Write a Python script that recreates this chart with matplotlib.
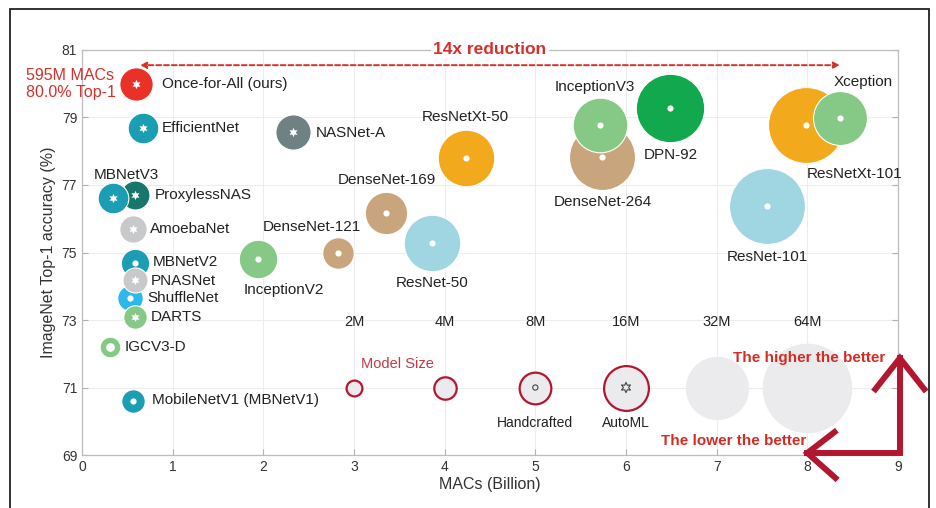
import numpy as np
import matplotlib.pyplot as plt
from matplotlib.patches import Rectangle

plt.rcParams['font.family'] = ['Liberation Sans', 'DejaVu Sans']

# --- data (drawing order = stacking order) ---
models = ["DenseNet-264", "InceptionV3", "ResNetXt-101", "Xception", "ResNet-101",
          "DPN-92", "ResNet-50", "ResNetXt-50", "DenseNet-169", "DenseNet-121",
          "InceptionV2", "NASNet-A", "ProxylessNAS", "MBNetV3", "AmoebaNet",
          "MBNetV2", "ShuffleNet", "PNASNet", "DARTS", "IGCV3-D",
          "MobileNetV1 (MBNetV1)", "EfficientNet", "Once-for-All (ours)"]
macs = [5.74, 5.71, 7.98, 8.36, 7.56,
        6.49, 3.86, 4.23, 3.35, 2.82,
        1.94, 2.33, 0.58, 0.34, 0.56,
        0.58, 0.53, 0.58, 0.58, 0.31,
        0.56, 0.67, 0.595]
top1 = [77.83, 78.78, 78.78, 78.99, 76.38,
        79.28, 75.28, 77.8, 76.17, 74.99,
        74.8, 78.57, 76.7, 76.6, 75.7,
        74.7, 73.65, 74.2, 73.1, 72.2,
        70.6, 78.7, 80.0]
params = [34.7, 23.8, 46.0, 23.2, 46.0,
          37.3, 25.5, 25.5, 14.3, 7.9,
          11.8, 9.9, 6.7, 7.5, 6.0,
          6.4, 5.2, 5.0, 4.4, 3.4,
          4.4, 7.5, 8.9]
automl = [False, False, False, False, False,
          False, False, False, False, False,
          False, True, True, True, True,
          False, False, True, True, False,
          False, True, True]

legend_sizes = [2, 4, 8, 16, 32, 64]
legend_labels = ["2M", "4M", "8M", "16M", "32M", "64M"]
legend_macs = [3, 4, 5, 6, 7, 8]

# --- styles ---
colors = {
    "DenseNet-264": "#c9a57e", "DenseNet-169": "#c9a57e", "DenseNet-121": "#c9a57e",
    "InceptionV3": "#86c886", "InceptionV2": "#86c886", "Xception": "#86c886",
    "DARTS": "#86c886", "IGCV3-D": "#86c886",
    "ResNetXt-101": "#f2aa1c", "ResNetXt-50": "#f2aa1c",
    "ResNet-101": "#9fd6e2", "ResNet-50": "#9fd6e2",
    "DPN-92": "#12a84e", "NASNet-A": "#6f8182",
    "ProxylessNAS": "#17776c", "AmoebaNet": "#c8c9cb", "PNASNet": "#c8c9cb",
    "MBNetV3": "#1b9db4", "MBNetV2": "#1b9db4", "MobileNetV1 (MBNetV1)": "#1b9db4",
    "EfficientNet": "#1b9db4", "ShuffleNet": "#2db8ea",
    "Once-for-All (ours)": "#ea3127",
}
# label placement: (x, y, ha)
label_pos = {
    "DenseNet-264": (5.74, 76.5, "center"), "InceptionV3": (5.66, 79.9, "center"),
    "ResNetXt-101": (8.52, 77.33, "center"), "Xception": (8.62, 80.05, "center"),
    "ResNet-101": (7.56, 74.87, "center"), "DPN-92": (6.49, 77.9, "center"),
    "ResNet-50": (3.86, 74.1, "center"), "ResNetXt-50": (4.23, 79.0, "center"),
    "DenseNet-169": (3.36, 77.15, "center"), "DenseNet-121": (2.54, 75.76, "center"),
    "InceptionV2": (2.23, 73.9, "center"), "NASNet-A": (2.58, 78.54, "left"),
    "ProxylessNAS": (0.80, 76.7, "left"), "MBNetV3": (0.49, 77.3, "center"),
    "AmoebaNet": (0.75, 75.7, "left"), "MBNetV2": (0.78, 74.72, "left"),
    "ShuffleNet": (0.72, 73.65, "left"), "PNASNet": (0.76, 74.16, "left"),
    "DARTS": (0.76, 73.09, "left"), "IGCV3-D": (0.47, 72.2, "left"),
    "MobileNetV1 (MBNetV1)": (0.77, 70.63, "left"), "EfficientNet": (0.88, 78.7, "left"),
    "Once-for-All (ours)": (0.88, 80.0, "left"),
}
SCALE = 65.0  # points^2 per million params
red = "#d7302a"
crimson = "#b3172f"

fig = plt.figure(figsize=(9.36, 5.08), dpi=100)
ax = fig.add_axes([0.0876, 0.1043, 0.8718, 0.7973])

for m, x, y, p, star in zip(models, macs, top1, params, automl):
    ax.scatter(x, y, s=SCALE * p, color=colors[m], edgecolors="white", linewidths=0.8, zorder=3)
    if star:
        ax.scatter(x, y, s=45, marker=(6, 1, 0), color="white", linewidths=0, zorder=3)
    else:
        ax.scatter(x, y, s=40 if m == "IGCV3-D" else 20, marker="o", color="white",
                   linewidths=0, zorder=3)
    lx, ly, ha = label_pos[m]
    ax.text(lx, ly, m, ha=ha, va="center", fontsize=11, color="#222222", zorder=4)

# model-size legend inside the axes
for i, (sz, lab, x) in enumerate(zip(legend_sizes, legend_labels, legend_macs)):
    if i < 4:
        ax.scatter(x, 71, s=SCALE * sz, color="#ebebee", edgecolors=crimson, linewidths=1.6, zorder=3)
    else:
        ax.scatter(x, 71, s=SCALE * sz, color="#ebebee", linewidths=0, zorder=2)
    ax.text(x, 72.95, lab, ha="center", va="center", fontsize=10.5, color="#222222")
ax.scatter(5, 71, s=14, marker="o", facecolors="none", edgecolors="#444444", linewidths=0.8, zorder=4)
ax.scatter(6, 71, s=55, marker=(6, 1, 0), facecolors="none", edgecolors="#444444", linewidths=0.8, zorder=4)
ax.text(5.0, 69.95, "Handcrafted", ha="center", va="center", fontsize=10, color="#222222")
ax.text(6.0, 69.95, "AutoML", ha="center", va="center", fontsize=10, color="#222222")
ax.text(3.48, 71.7, "Model Size", ha="center", va="center", fontsize=10.5, color="#c23a45")

# OFA callout and reduction arrow
ax.text(-0.62, 80.0, "595M MACs\n80.0% Top-1", ha="left", va="center", fontsize=11.5,
        color=red, linespacing=1.15, clip_on=False)
ax.annotate("", xy=(0.64, 80.55), xytext=(8.36, 80.55),
            arrowprops=dict(arrowstyle="<|-|>", color=red, lw=1.4, ls=(0, (2.5, 1.5)),
                            mutation_scale=9, shrinkA=0, shrinkB=0))
ax.text(4.5, 81.0, "14x reduction", ha="center", va="center", fontsize=12.5,
        fontweight="bold", color=red, zorder=5,
        bbox=dict(boxstyle="square,pad=0.15", fc="white", ec="none"))

# "better" arrows
ax.plot([8.0, 9.02, 9.02], [69.06, 69.06, 71.87], color=crimson, lw=4.3,
        solid_joinstyle="miter", clip_on=False, zorder=5)
ax.plot([8.3, 8.0, 8.31], [69.68, 69.06, 68.32], color=crimson, lw=4.3,
        solid_joinstyle="miter", clip_on=False, zorder=5)
ax.plot([8.75, 9.02, 9.29], [70.95, 71.87, 70.95], color=crimson, lw=4.3,
        solid_joinstyle="miter", clip_on=False, zorder=5)
ax.text(8.86, 71.87, "The higher the better", ha="right", va="center", fontsize=11,
        fontweight="bold", color="#d12d24", zorder=6)
ax.text(7.99, 69.42, "The lower the better", ha="right", va="center", fontsize=11,
        fontweight="bold", color="#d12d24", zorder=6)

ax.set_xlim(0, 9)
ax.set_ylim(69, 81)
ax.set_xticks(range(0, 10))
ax.set_yticks(range(69, 82, 2))
ax.tick_params(direction="in", length=4, color="#b0b0b0", labelsize=10, labelcolor="#333333",
               top=False, right=True)
ax.grid(True, color="#ededed", lw=0.8, zorder=0)
ax.set_axisbelow(True)
for sp in ax.spines.values():
    sp.set_color("#bdbdbd")
    sp.set_linewidth(0.9)
ax.set_xlabel("MACs (Billion)", fontsize=11.5, color="#333333", labelpad=2)
ax.set_ylabel("ImageNet Top-1 accuracy (%)", fontsize=11.5, color="#333333", labelpad=4)

fig.patches.append(Rectangle((10 / 936, -0.02), 919 / 936, 1.002 - 9 / 508 + 0.02 - 0.002,
                             transform=fig.transFigure, fill=False, ec="#222222", lw=1.3))

fig.savefig("out.png", dpi=100)
